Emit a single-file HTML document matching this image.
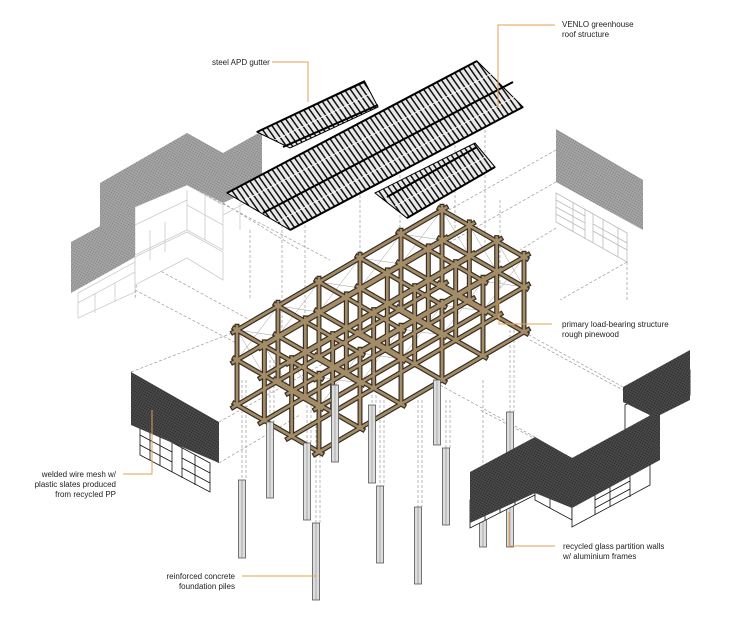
<!DOCTYPE html>
<html><head><meta charset="utf-8"><style>
html,body{margin:0;padding:0;background:#fff;}
svg{display:block;}
text{font-family:"Liberation Sans",sans-serif;font-size:8px;fill:#222;}
</style></head><body>
<svg id="s" width="750" height="623" viewBox="0 0 750 623" xmlns="http://www.w3.org/2000/svg">
<defs>
<pattern id="hatch" width="5" height="5" patternUnits="userSpaceOnUse" patternTransform="rotate(-35)">
<rect width="5" height="5" fill="#e8e8e8"/><rect width="1.5" height="5" fill="#111"/></pattern>
<pattern id="meshL" width="2.4" height="2.4" patternUnits="userSpaceOnUse" patternTransform="rotate(30)">
<rect width="2.4" height="2.4" fill="#a6a6a6"/><rect width="1.2" height="1.2" fill="#808080"/></pattern>
<pattern id="meshD" width="2.4" height="2.4" patternUnits="userSpaceOnUse" patternTransform="rotate(30)">
<rect width="2.4" height="2.4" fill="#4a4a4a"/><rect width="1.2" height="1.2" fill="#262626"/></pattern>
</defs>

<g stroke="#9a9a9a" stroke-width="0.7" stroke-dasharray="3,2" fill="none">
<path d="M135 257 L250 320 M223 203 L300 250 M187 185 L330 260 M135 290 L240 345"/>
<path d="M556 182 L445 245 M556 228 L520 250 M556 150 L440 215 M627 262 L560 300"/>
<path d="M219 422 L330 360 M219 463 L300 415 M131 372 L240 330"/>
<path d="M535 437 L440 385 M572 458 L480 410 M623 387 L520 330 M660 410 L530 340"/>
<path d="M282 225 V330 M305 210 V330 M360 180 V280 M400 160 V300 M455 140 V230 M485 130 V250 M500 200 V290"/>
<path d="M242 380 V480 M246 380 V480 M270 360 V422 M274 360 V422 M307 400 V443 M311 400 V443 M316 420 V523 M320 420 V523 M372 380 V405 M376 380 V405 M380 400 V486 M384 400 V486 M418 400 V507 M422 400 V507 M446 400 V448 M450 400 V448 M483 380 V470 M510 330 V412 M514 330 V412"/>
<path d="M140 240 L135 300 M250 230 V300 M627 262 V300"/>
</g>

<g stroke="#ccc" stroke-width="0.8" fill="#fff">
<polygon points="78,293 135,262 135,292 78,318"/>
<polygon points="135,257 187,232 223,252 223,280 187,258 135,285"/>
<polygon points="135,207 187,185 223,205 223,250 187,230 135,255"/>
<path d="M95 293 V313 M115 282 V302 M78 303 L135 272 M150 230 V260 M165 222 V252 M187 190 V230 M205 195 V240 M135 225 L187 200 M187 205 L223 225 M240 200 V230 M223 215 L260 195" fill="none"/>
</g>
<polygon points="71,242 135,207 135,257 71,293" fill="url(#meshL)"/>
<polygon points="100,183 135,203 135,257 100,237" fill="url(#meshL)"/>
<polygon points="100,183 187,133 223,153 223,203 187,185 135,207" fill="url(#meshL)"/>
<polygon points="223,153 262,131 262,185 223,203" fill="url(#meshL)"/>

<polygon points="556,129 643,180 643,230 556,182" fill="url(#meshL)"/>
<g stroke="#bbb" stroke-width="0.8" fill="none">
<polygon points="556,193 627,233 627,262 556,222"/>
<path d="M573 203 V232 M585 209 V239 M593 214 V243 M603 219 V248 M618 228 V257 M556 200 L585 216 M556 207 L585 223 M556 214 L585 230 M593 224 L627 243 M593 231 L627 250"/>
</g>

<g stroke="#000" stroke-width="1">
<polygon points="257,132 365,82 378,107 290,148" fill="url(#hatch)"/>
<polygon points="227,193 477,61 523,107 290,230" fill="url(#hatch)"/>
<polygon points="375,193 475,143 495,167 407,218" fill="url(#hatch)"/>
</g>
<g stroke="#000" stroke-width="2" fill="none">
<path d="M257 132 L365 81 M227 193 L477 61 M263 213 L513 82 M290 230 L523 107 M387 197 L477 147 M407 218 L495 167 M283 147 L378 105"/>
</g>
<g stroke="#fff" stroke-width="0.8" fill="none">
<path d="M275 140 L370 94 M245 200 L495 72 M277 222 L518 95 M395 206 L485 157"/>
</g>

<g id="wood"></g>
<g id="piles" stroke="#555" stroke-width="0.8" fill="#ddd"></g>

<g stroke="#111" stroke-width="0.8" fill="#fff">
<polygon points="140,425 210,463 210,492 140,455"/>
<path d="M150 430 V460 M160 436 V466 M172 442 V472 M182 448 V478 M195 455 V485 M140 435 L172 452 M140 445 L172 462 M182 458 L210 473 M182 468 L210 483" fill="none"/>
</g>
<polygon points="131,372 219,422 219,463 131,425" fill="url(#meshD)"/>

<g stroke="#111" stroke-width="0.8" fill="#fff">
<polygon points="470,500 535,470 535,495 470,528"/>
<polygon points="535,480 572,500 572,520 535,500"/>
<polygon points="572,500 650,458 650,485 572,527"/>
<polygon points="625,405 690,370 690,395 625,430"/>
<path d="M485 493 V520 M500 486 V513 M515 478 V505 M550 488 V508 M595 488 V515 M610 480 V507 M630 470 V497 M470 510 L500 496 M470 518 L500 504 M595 500 L630 481 M595 508 L630 489 M650 395 V420 M665 387 V412 M650 402 L690 380" fill="none"/>
</g>
<g fill="url(#meshD)">
<polygon points="470,472 535,437 535,493 470,523"/>
<polygon points="535,437 572,458 572,508 535,493"/>
<polygon points="572,458 660,410 660,460 572,508"/>
<polygon points="623,387 690,350 690,400 660,415 623,402"/>
<polygon points="623,387 660,407 660,420 623,402"/>
</g>

<g stroke="#e0a050" stroke-width="1" fill="none">
<path d="M272 62 H308 V102"/>
<path d="M555 25 H498 V108"/>
<path d="M552 324 H499 V300"/>
<path d="M123 474 H152 V410"/>
<path d="M242 576 H316"/>
<path d="M555 546 H509 V512"/>
</g>
<text x="212" y="65">steel APD gutter</text>
<text x="562" y="27">VENLO greenhouse</text>
<text x="562" y="37">roof structure</text>
<text x="562" y="327">primary load-bearing structure</text>
<text x="562" y="337">rough pinewood</text>
<text x="116" y="477" text-anchor="end">welded wire mesh w/</text>
<text x="116" y="487" text-anchor="end">plastic slates produced</text>
<text x="116" y="497" text-anchor="end">from recycled PP</text>
<text x="235" y="579" text-anchor="end">reinforced concrete</text>
<text x="235" y="589" text-anchor="end">foundation piles</text>
<text x="563" y="549">recycled glass partition walls</text>
<text x="563" y="559">w/ aluminium frames</text>
</svg>
<script>
(function(){
var NS="http://www.w3.org/2000/svg";
var w=document.getElementById("wood");
function line(g,x1,y1,x2,y2,c,sw){var l=document.createElementNS(NS,"line");l.setAttribute("x1",x1);l.setAttribute("y1",y1);l.setAttribute("x2",x2);l.setAttribute("y2",y2);l.setAttribute("stroke",c);l.setAttribute("stroke-width",sw);l.setAttribute("stroke-linecap","square");g.appendChild(l);}
var A=[237,330],U=[205,-120],V=[82,47],H=75,NI=5,NJ=3;
function P(i,j,z){return [A[0]+U[0]*i/NI+V[0]*j/NJ, A[1]+U[1]*i/NI+V[1]*j/NJ+H*z];}
var segs=[],posts=[],br=[];
var lv=[0,0.4,1];
for(var i=0;i<=NI;i++)for(var j=0;j<=NJ;j++){posts.push([P(i,j,-0.05),P(i,j,1)]);}
lv.forEach(function(z){
 for(var j=0;j<=NJ;j++){segs.push([P(-0.1,j,z),P(NI+0.1,j,z)]);}
 for(var i=0;i<=NI;i++){segs.push([P(i,-0.1,z),P(i,NJ+0.1,z)]);}
});
for(var i=0;i<NI;i++)for(var j=0;j<=NJ;j+=NJ){br.push([P(i,j,0),P(i+1,j,0.4)]);br.push([P(i+1,j,0),P(i,j,0.4)]);}
for(var i=0;i<=NI;i+=NI)for(var j=0;j<NJ;j++){br.push([P(i,j,0),P(i,j+1,0.4)]);br.push([P(i,j+1,0),P(i,j,0.4)]);}
br.forEach(function(s){line(w,s[0][0],s[0][1],s[1][0],s[1][1],"#9a9a9a",0.5);});
var all=segs.concat(posts);
all.forEach(function(s){line(w,s[0][0],s[0][1],s[1][0],s[1][1],"#3a2f22",5);});
all.forEach(function(s){line(w,s[0][0],s[0][1],s[1][0],s[1][1],"#a38c68",2.6);});
var p=document.getElementById("piles");
[[242,480,558],[270,422,498],[307,443,520],[335,385,462],[316,523,600],[372,405,483],[380,486,563],[418,507,584],[437,380,445],[446,448,525],[483,470,547],[510,412,547]].forEach(function(q){
 var r=document.createElementNS(NS,"rect");r.setAttribute("x",q[0]-3.5);r.setAttribute("y",q[1]);r.setAttribute("width",7);r.setAttribute("height",q[2]-q[1]);p.appendChild(r);
 line(p,q[0],q[1],q[0],q[2],"#888",0.6);
});
})();
</script>
</body></html>
